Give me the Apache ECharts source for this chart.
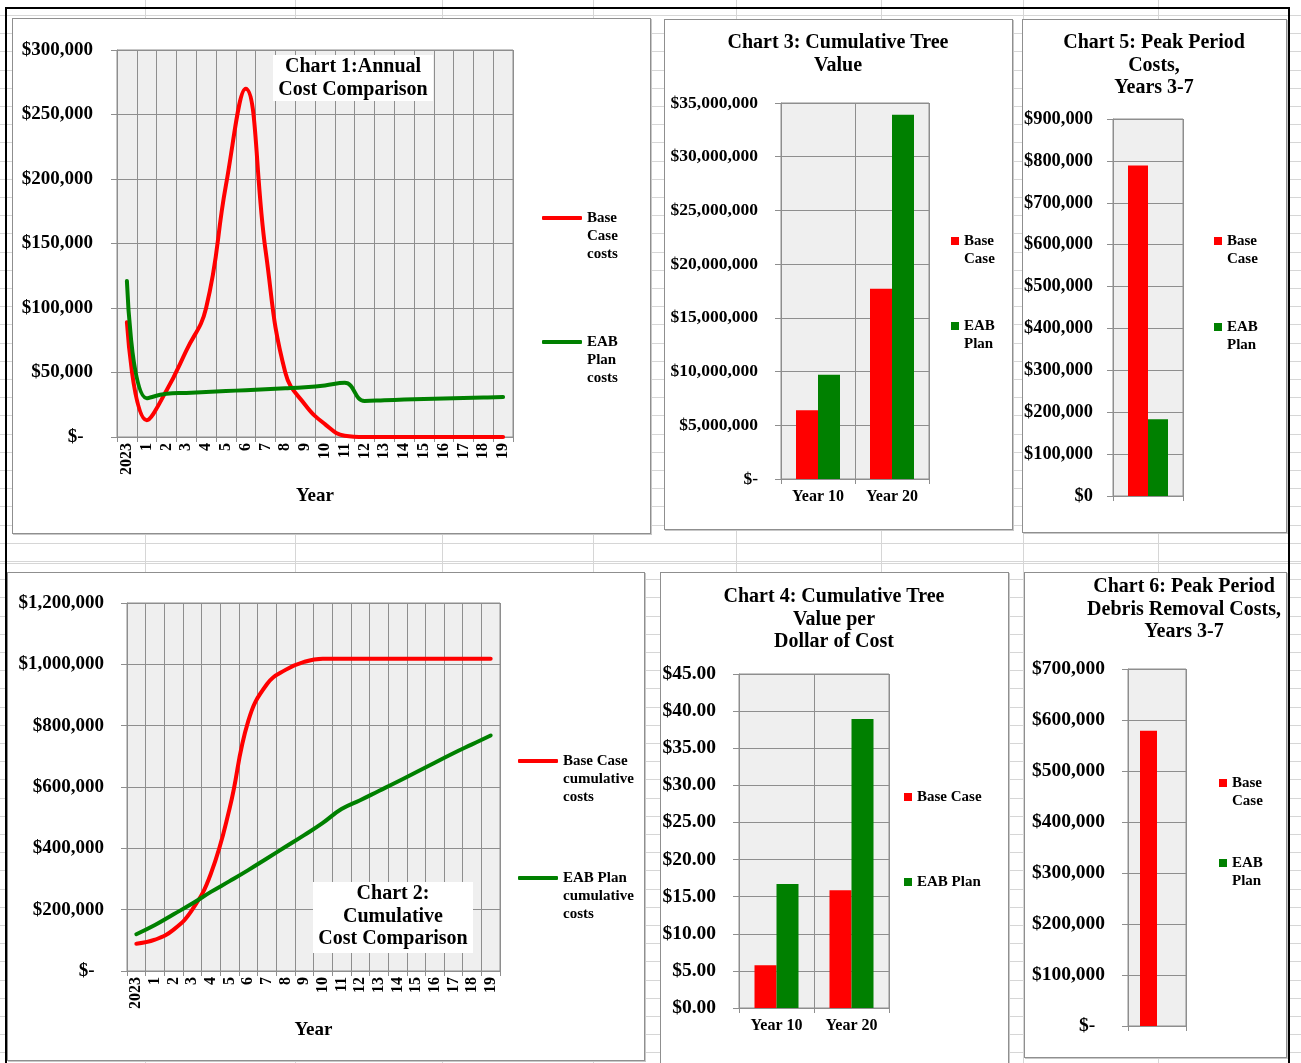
<!DOCTYPE html>
<html>
<head>
<meta charset="utf-8">
<title>EAB cost dashboard</title>
<script src="https://cdn.jsdelivr.net/npm/echarts@6/dist/echarts.min.js"></script>
<style>
  html, body { margin: 0; padding: 0; background: #fff; }
  #sheet { position: relative; width: 1301px; height: 1063px; overflow: hidden; background: #fff; }
  .col { position: absolute; top: 0; bottom: 0; width: 1px; background: #d6d6d6; }
  .row { position: absolute; left: 0; right: 0; height: 1px; background: #d6d6d6; }
  .box { position: absolute; background: #fff; border: 1px solid #8f8f8f; box-sizing: border-box; box-shadow: 1px 1px 0 #c8c8c8; }
  .edge { position: absolute; background: #000; }
  #chart { position: absolute; left: 0; top: 0; width: 1301px; height: 1063px; }
</style>
</head>
<body>
<div id="sheet"></div>
<script>
// ---- data ----------------------------------------------------------
const years = ['2023', '1', '2', '3', '4', '5', '6', '7', '8', '9', '10',
               '11', '12', '13', '14', '15', '16', '17', '18', '19'];

// Chart 1: annual costs
const annualBase = [89000, 13000, 36000, 67000, 100000, 195000, 270000, 145000, 50000, 25000,
                    10000, 1000, 0, 0, 0, 0, 0, 0, 0, 0];
const annualEab = [121000, 30000, 33500, 34200, 34900, 35600, 36300, 37000, 37700, 38600,
                   40000, 42000, 28000, 28500, 29000, 29400, 29800, 30200, 30600, 31000];

// Chart 2: cumulative costs
const cumulativeBase = [89000, 102000, 135000, 200000, 318000, 530000, 815000, 935000, 982000, 1008000,
                        1018000, 1018000, 1018000, 1018000, 1018000, 1018000, 1018000, 1018000, 1018000, 1018000];
const cumulativeEab = [120000, 150000, 185000, 220000, 258000, 293000, 329000, 367000, 405000, 443000,
                       483000, 528000, 557000, 587000, 617000, 648000, 679000, 710000, 739000, 768000];

// Charts 3 and 4: Year 10 / Year 20 comparisons
const valueYears = ['Year 10', 'Year 20'];
const treeValueBase = [6400000, 17700000];
const treeValueEab = [9700000, 33900000];
const valuePerDollarBase = [5.77, 15.85];
const valuePerDollarEab = [16.7, 38.95];

// Charts 5 and 6: peak period, years 3-7
const peakCategory = [''];
const peakCostBase = [789000];
const peakCostEab = [183000];
const debrisBase = [579000];
const debrisEab = [0];

// Legend wording (wrapped lines)
const legendLines = {
  'Base Case costs': ['Base', 'Case', 'costs'],
  'EAB Plan costs': ['EAB', 'Plan', 'costs'],
  'Base Case cumulative costs': ['Base Case', 'cumulative', 'costs'],
  'EAB Plan cumulative costs': ['EAB Plan', 'cumulative', 'costs'],
  'Base Case': ['Base', 'Case'],
  'EAB Plan': ['EAB', 'Plan']
};

// ---- spreadsheet backdrop --------------------------------------------
const sheet = document.getElementById('sheet');
function addDiv(cls, css) {
  const d = document.createElement('div');
  d.className = cls;
  Object.assign(d.style, css);
  sheet.appendChild(d);
  return d;
}
[145, 295, 442, 593, 736, 881, 1023, 1158].forEach(x => addDiv('col', { left: x + 'px' }));
for (let y = 15; y < 1063; y += 18.2) addDiv('row', { top: Math.round(y) + 'px' });
addDiv('row', { top: '563px' });

// chart frames
[[12, 18, 651, 534], [664, 19, 1013, 530], [1022, 19, 1287, 533],
 [7, 572, 645, 1061], [660, 572, 1009, 1070], [1024, 572, 1287, 1058]]
  .forEach(([l, t, r, b]) => addDiv('box', { left: l + 'px', top: t + 'px', width: (r - l) + 'px', height: (b - t) + 'px' }));

// sheet outline
addDiv('edge', { left: '5px', top: '7px', width: '1285px', height: '2px' });
addDiv('edge', { left: '5px', top: '7px', width: '2px', height: '1063px' });
addDiv('edge', { left: '1288px', top: '7px', width: '2px', height: '1063px' });

const chartDiv = document.createElement('div');
chartDiv.id = 'chart';
sheet.appendChild(chartDiv);

// ---- chart ------------------------------------------------------------
const FONT = '"Liberation Serif", "Times New Roman", serif';
const GRID = '#8e8e8e';
const RED = '#ff0000';
const GREEN = '#008000';

function money(v) { return '$' + v.toLocaleString('en-US'); }

function valueAxis(gridIndex, max, interval, fontSize, margin, zeroText) {
  return {
    type: 'value', gridIndex, min: 0, max, interval,
    axisLine: { show: true, lineStyle: { color: GRID } },
    axisTick: { show: true, length: 6, lineStyle: { color: GRID } },
    splitLine: { show: true, lineStyle: { color: GRID, width: 1 } },
    axisLabel: {
      margin, color: '#000', fontFamily: FONT, fontWeight: 'bold', fontSize,
      formatter: v => (v === 0 ? zeroText : money(v))
    }
  };
}

function categoryAxis(gridIndex, data, extra) {
  return Object.assign({
    type: 'category', gridIndex, data,
    axisLine: { show: true, lineStyle: { color: GRID } },
    axisTick: { show: true, length: 5, interval: 0, lineStyle: { color: GRID } },
    splitLine: { show: true, interval: 0, lineStyle: { color: GRID, width: 1 } },
    axisLabel: { interval: 0, color: '#000', fontFamily: FONT, fontWeight: 'bold', fontSize: 16, margin: 10 }
  }, extra || {});
}

const yearAxisExtra = {
  name: 'Year', nameLocation: 'middle', nameGap: 50,
  nameTextStyle: { color: '#000', fontFamily: FONT, fontWeight: 'bold', fontSize: 19 },
  axisLabel: { interval: 0, rotate: 90, color: '#000', fontFamily: FONT, fontWeight: 'bold', fontSize: 16, margin: 6 }
};

const gridBase = { show: true, backgroundColor: '#efefef', borderColor: GRID, borderWidth: 1 };

function lineSeries(name, xi, data, color) {
  return {
    type: 'line', name, xAxisIndex: xi, yAxisIndex: xi, data, smooth: 0.45,
    symbol: 'none', lineStyle: { width: 4, color, cap: 'round', join: 'round' },
    itemStyle: { color }, z: 3
  };
}
function barSeries(name, xi, data, color, width) {
  return {
    type: 'bar', name, xAxisIndex: xi, yAxisIndex: xi, data, barWidth: width, barGap: '0%',
    itemStyle: { color }
  };
}

// Legend entries: the marker sits beside the first text line. The label block is
// vertically centred on the marker, so blank lines are added above to balance it.
function wrapped(name) {
  const lines = legendLines[name];
  const pad = new Array(lines.length - 1).fill('');
  return pad.concat(lines).join('\n');
}
function legend(left, top, names, gap, iconW, iconH, icon, fmt) {
  return {
    orient: 'vertical', left, top, padding: 0, itemGap: gap, selectedMode: false,
    itemWidth: iconW, itemHeight: iconH, icon, data: names,
    formatter: fmt,
    textStyle: { color: '#000', fontFamily: FONT, fontWeight: 'bold', fontSize: 15, lineHeight: 18 }
  };
}

function titleText(x, y, lines, withBox) {
  const els = [];
  if (withBox) {
    els.push({ type: 'rect', z: 20, shape: withBox, style: { fill: '#fff' } });
  }
  els.push({
    type: 'text', z: 21, x, y,
    style: { text: lines.join('\n'), align: 'center', verticalAlign: 'top', lineHeight: 22.5,
             font: 'bold 20px ' + FONT, fill: '#000' }
  });
  return els;
}

const option = {
  animation: false,
  backgroundColor: 'transparent',
  grid: [
    Object.assign({ left: 117, top: 50, width: 396, height: 387 }, gridBase),
    Object.assign({ left: 127, top: 603, width: 373, height: 368 }, gridBase),
    Object.assign({ left: 781, top: 103, width: 148, height: 376 }, gridBase),
    Object.assign({ left: 1113, top: 119, width: 70, height: 377 }, gridBase),
    Object.assign({ left: 739, top: 674, width: 150, height: 334 }, gridBase),
    Object.assign({ left: 1128, top: 669, width: 58, height: 357 }, gridBase)
  ],
  xAxis: [
    categoryAxis(0, years, yearAxisExtra),
    categoryAxis(1, years, yearAxisExtra),
    categoryAxis(2, valueYears),
    categoryAxis(3, peakCategory),
    categoryAxis(4, valueYears),
    categoryAxis(5, peakCategory)
  ],
  yAxis: [
    valueAxis(0, 300000, 50000, 19, 24, '$-\u2002'),
    valueAxis(1, 1200000, 200000, 19, 23, '$-\u2002'),
    valueAxis(2, 35000000, 5000000, 17.5, 23, '$-'),
    valueAxis(3, 900000, 100000, 18.4, 20, '$0'),
    Object.assign(valueAxis(4, 45, 5, 19.5, 23, '$0.00'), {
      axisLabel: { margin: 23, color: '#000', fontFamily: FONT, fontWeight: 'bold', fontSize: 19.5,
                   formatter: v => '$' + v.toFixed(2) }
    }),
    valueAxis(5, 700000, 100000, 19.5, 23, '$-\u2002')
  ],
  legend: [
    legend(542, 173, ['Base Case costs', 'EAB Plan costs'], 34, 40, 4, 'roundRect', wrapped),
    legend(518, 716, ['Base Case cumulative costs', 'EAB Plan cumulative costs'], 27, 40, 4, 'roundRect', wrapped),
    legend(951, 214, ['Base Case', 'EAB Plan'], 31, 8, 8, 'rect', wrapped),
    legend(1214, 214, ['Base Case', 'EAB Plan'], 32, 8, 8, 'rect', wrapped),
    legend(904, 788, ['Base Case', 'EAB Plan'], 67, 8, 8, 'rect', n => n),
    legend(1219, 756, ['Base Case', 'EAB Plan'], 26, 8, 8, 'rect', wrapped)
  ],
  graphic: [].concat(
    titleText(353, 56, ['Chart 1:Annual', 'Cost Comparison'], { x: 273, y: 55, width: 160, height: 46 }),
    titleText(393, 883, ['Chart 2:', 'Cumulative', 'Cost Comparison'], { x: 313, y: 882, width: 160, height: 71 }),
    titleText(838, 32, ['Chart 3: Cumulative Tree', 'Value']),
    titleText(1154, 32, ['Chart 5: Peak Period', 'Costs,', 'Years 3-7']),
    titleText(834, 586, ['Chart 4: Cumulative Tree', 'Value per', 'Dollar of Cost']),
    titleText(1184, 576, ['Chart 6: Peak Period', 'Debris Removal Costs,', 'Years 3-7'])
  ),
  series: [
    lineSeries('Base Case costs', 0, annualBase, RED),
    lineSeries('EAB Plan costs', 0, annualEab, GREEN),
    lineSeries('Base Case cumulative costs', 1, cumulativeBase, RED),
    lineSeries('EAB Plan cumulative costs', 1, cumulativeEab, GREEN),
    barSeries('Base Case', 2, treeValueBase, RED, 22),
    barSeries('EAB Plan', 2, treeValueEab, GREEN, 22),
    barSeries('Base Case', 3, peakCostBase, RED, 20),
    barSeries('EAB Plan', 3, peakCostEab, GREEN, 20),
    barSeries('Base Case', 4, valuePerDollarBase, RED, 22),
    barSeries('EAB Plan', 4, valuePerDollarEab, GREEN, 22),
    barSeries('Base Case', 5, debrisBase, RED, 17),
    barSeries('EAB Plan', 5, debrisEab, GREEN, 17)
  ]
};

const chart = echarts.init(chartDiv, null, { renderer: 'canvas' });
chart.setOption(option);
</script>
</body>
</html>
